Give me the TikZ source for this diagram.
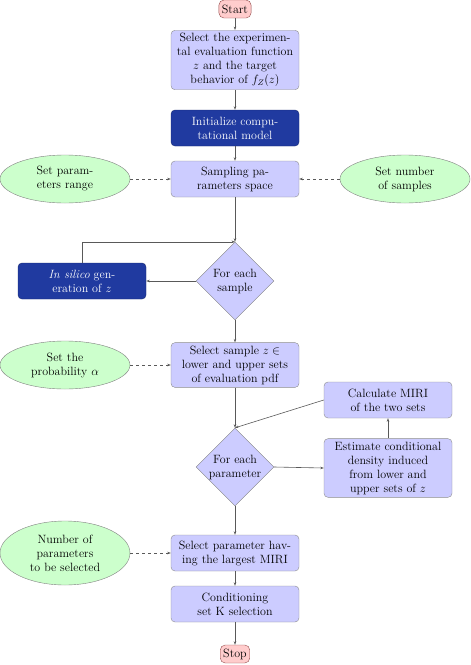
\documentclass[tikz,border=0pt]{standalone}
\usetikzlibrary{shapes.geometric,shapes.misc,arrows.meta}
\definecolor{lightbox}{RGB}{204,204,255}
\definecolor{darkbox}{RGB}{32,58,160}
\definecolor{termfill}{RGB}{255,204,204}
\definecolor{ellfill}{RGB}{204,255,204}
\begin{document}
\begin{tikzpicture}[x=1pt,y=-1pt,
  font=\large,
  base/.style={rectangle, rounded corners=4pt, minimum width=128pt, minimum height=36pt, inner xsep=3pt, inner ysep=3pt, align=center},
  process/.style={base, fill=lightbox, draw=black!45},
  darkproc/.style={base, fill=darkbox, draw=darkbox!70!black, text=white},
  term/.style={rectangle, rounded corners=5pt, fill=termfill, draw=red!40!black!70, inner sep=3pt, minimum height=18pt},
  decide/.style={diamond, aspect=1, minimum width=78pt, minimum height=78pt, inner sep=-8pt, fill=lightbox, draw=black!50, align=center},
  inputell/.style={ellipse, minimum width=130pt, minimum height=48pt, inner sep=0pt, fill=ellfill, draw=black!50, align=center},
  arr/.style={draw=black!65, line width=0.6pt, -{Stealth[length=3.5pt,width=2.5pt]}},
  darr/.style={arr, dashed}
]
\useasboundingbox (0,0) rectangle (471,665);

\node[term] (start) at (235,9) {Start};
\node[process] (sel) at (235,60) {Select the experimen-\\tal evaluation function\\$z$ and the target\\behavior of $f_Z(z)$};
\node[darkproc] (init) at (235,128) {Initialize compu-\\tational model};
\node[process] (samp) at (235,179) {Sampling pa-\\rameters space};
\node[inputell] (range) at (65,179) {Set param-\\eters range};
\node[inputell] (nsamp) at (405,179) {Set number\\of samples};
\node[decide] (d1) at (235,281) {For each\\sample};
\node[darkproc] (insil) at (82,281) {\textit{In silico} gen-\\eration of $z$};
\node[process] (selz) at (235,365) {Select sample $z\in$\\lower and upper sets\\of evaluation pdf};
\node[inputell] (alpha) at (65,365) {Set the\\probability $\alpha$};
\node[process] (calc) at (388,400) {Calculate MIRI\\of the two sets};
\node[decide] (d2) at (235,467) {For each\\parameter};
\node[process] (est) at (388,468) {Estimate conditional\\density induced\\from lower and\\upper sets of $z$};
\node[process] (selp) at (235,553) {Select parameter hav-\\ing the largest MIRI};
\node[inputell, minimum height=64pt] (npar) at (65,553) {Number of\\parameters\\to be selected};
\node[process] (cond) at (235,604) {Conditioning\\set K selection};
\node[term] (stop) at (235,654) {Stop};

\draw[arr] (start) -- (sel);
\draw[arr] (sel) -- (init);
\draw[arr] (init) -- (samp);
\draw[darr] (range) -- (samp);
\draw[darr] (nsamp) -- (samp);
\draw[arr] (samp) -- (d1.north);
\draw[arr] (d1.west) -- (insil.east);
\draw[arr] (insil.north) |- (d1.north);
\draw[arr] (d1.south) -- (selz);
\draw[darr] (alpha) -- (selz);
\draw[arr] (selz) -- (d2.north);
\draw[arr] (d2.east) -- (est.west);
\draw[arr] (est) -- (calc);
\draw[arr] (calc.west) -- (d2.north);
\draw[arr] (d2.south) -- (selp);
\draw[darr] (npar) -- (selp);
\draw[arr] (selp) -- (cond);
\draw[arr] (cond) -- (stop);
\end{tikzpicture}
\end{document}
